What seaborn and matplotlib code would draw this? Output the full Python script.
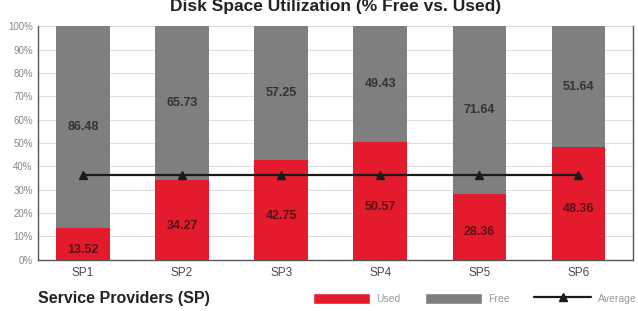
import pandas as pd
import matplotlib.pyplot as plt
import seaborn as sns
from matplotlib.patches import Patch
from matplotlib.lines import Line2D

# Data
providers = ['SP1', 'SP2', 'SP3', 'SP4', 'SP5', 'SP6']
used = [13.52, 34.27, 42.75, 50.57, 28.36, 48.36]
free = [86.48, 65.73, 57.25, 49.43, 71.64, 51.64]

avg_used = sum(used) / len(used)

df = pd.DataFrame({'provider': providers, 'used': used, 'free': free})
df['total'] = df['used'] + df['free']
df['average'] = avg_used

red = '#e31b2d'
gray = '#7f7f7f'

sns.set_style('white')
plt.rcParams['font.family'] = ['Liberation Sans', 'DejaVu Sans']

fig, ax = plt.subplots(figsize=(6.38, 3.11), dpi=100)
fig.subplots_adjust(left=0.06, right=0.992, top=0.915, bottom=0.165)

# Stacked bars: total (free on top) then used
sns.barplot(data=df, x='provider', y='total', color=gray, width=0.54,
            saturation=1, linewidth=0, ax=ax, zorder=2)
sns.barplot(data=df, x='provider', y='used', color=red, width=0.54,
            saturation=1, linewidth=0, ax=ax, zorder=3)

# Average line
ax.plot(range(len(providers)), df['average'], color='#1a1a1a', lw=1.6,
        marker='^', markersize=6, zorder=4)

# Value labels
for i, (u, f) in enumerate(zip(used, free)):
    ax.text(i, u + f / 2, f'{f:.2f}', ha='center', va='center',
            fontsize=9, fontweight='bold', color='#333333', zorder=5)
    ax.text(i, max(u / 2 - 2.5, 4), f'{u:.2f}', ha='center', va='center',
            fontsize=9, fontweight='bold', color='#5a1016', zorder=5)

ax.set_ylim(0, 100)
ax.set_xlim(-0.45, 5.55)
ax.set_yticks(range(0, 101, 10))
ax.set_yticklabels([f'{v}%' for v in range(0, 101, 10)])
ax.yaxis.grid(True, color='#dddddd', lw=0.8, zorder=0)
ax.set_axisbelow(True)
ax.tick_params(axis='y', labelsize=7, labelcolor='#888888', length=0, pad=4)
ax.tick_params(axis='x', labelsize=8.5, labelcolor='#4a4a4a', length=0, pad=5)
ax.set_xlabel('')
ax.set_ylabel('')

for s in ['left', 'bottom', 'right']:
    ax.spines[s].set_color('#555555')
    ax.spines[s].set_linewidth(1)
ax.spines['top'].set_visible(False)

ax.set_title('Disk Space Utilization (% Free vs. Used)', fontsize=12.5,
             fontweight='bold', color='#222222', pad=11)

fig.text(0.06, 0.04, 'Service Providers (SP)', fontsize=11.5,
         fontweight='bold', color='#222222', va='center')

handles = [Patch(facecolor=red, label='Used'),
           Patch(facecolor=gray, label='Free'),
           Line2D([0], [0], color='#1a1a1a', lw=1.6, marker='^',
                  markersize=6, label='Average')]
leg = fig.legend(handles=handles, loc='center right', ncol=3,
                 bbox_to_anchor=(1.012, 0.04), frameon=False, fontsize=7.5,
                 handlelength=5.5, handleheight=1.3, columnspacing=2.3,
                 handletextpad=0.6)
for t in leg.get_texts():
    t.set_color('#999999')

fig.savefig('out.png', dpi=100)
